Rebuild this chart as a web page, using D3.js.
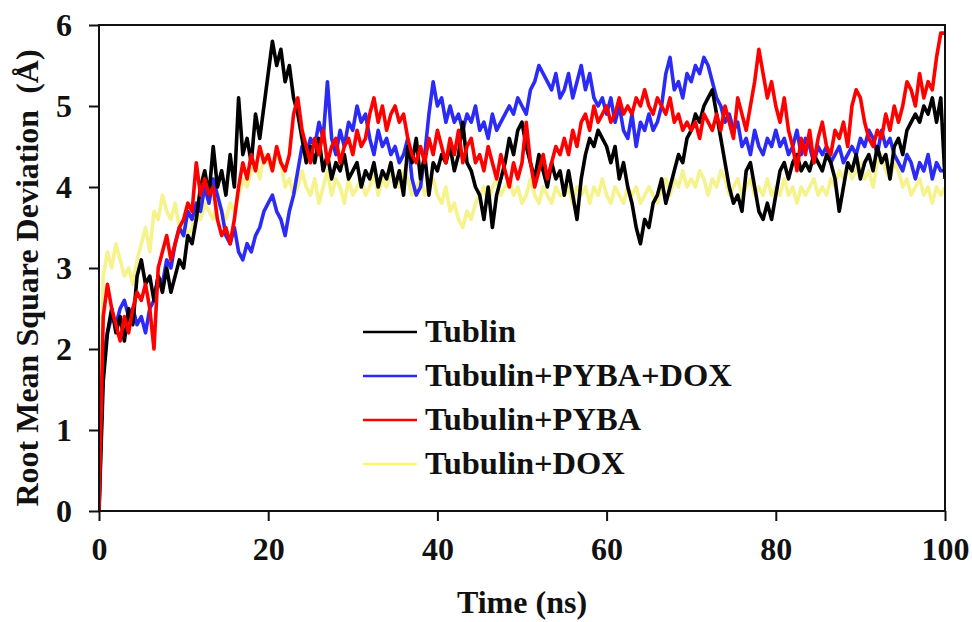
<!DOCTYPE html>
<html>
<head>
<meta charset="utf-8">
<script src="https://cdn.jsdelivr.net/npm/d3@7/dist/d3.min.js"></script>
<style>
  html, body { margin: 0; padding: 0; background: #ffffff; }
  svg { display: block; }
  text { font-family: "Liberation Serif", "Times New Roman", serif; font-weight: bold; fill: #111; }
</style>
</head>
<body>
<svg id="chart" width="972" height="622"></svg>
<script>
// ---- Data (time step 0.5 ns, 0..100 ns) ----
const timeStep = 0.5;
const seriesNames = ["Tublin", "Tubulin+PYBA+DOX", "Tubulin+PYBA", "Tubulin+DOX"];
const seriesColors = ["#000000", "#2b2bf5", "#ff0000", "#f6f28c"];

const tublin = [
  0, 1.6, 2.2, 2.5, 2.2, 2.4, 2.1, 2.5, 2.3, 2.9,
  3.1, 2.8, 2.9, 2.6, 2.9, 2.7, 3.0, 2.7, 2.9, 3.1,
  3.0, 3.4, 3.3, 3.6, 4.0, 4.2, 3.9, 4.5, 4.0, 4.2,
  3.9, 4.4, 4.0, 5.1, 4.4, 4.6, 4.3, 4.9, 4.6, 5.0,
  5.4, 5.8, 5.5, 5.7, 5.3, 5.5, 5.1, 4.9, 4.6, 4.3,
  4.5, 4.3, 4.6, 4.2, 4.4, 4.1, 4.3, 4.2, 4.4, 4.1,
  4.2, 4.3, 4.0, 4.2, 4.1, 4.3, 4.0, 4.2, 4.1, 4.3,
  4.0, 4.2, 3.9, 4.5, 4.3, 4.6, 4.1, 4.4, 3.9, 4.3,
  4.2, 4.4, 4.3, 4.5, 4.2, 4.4, 4.8, 4.3, 4.2, 4.0,
  3.9, 3.6, 4.0, 3.5, 3.9, 4.1, 4.3, 4.6, 4.4, 4.7,
  4.8, 4.5, 4.3, 4.1, 4.4, 4.2, 4.0, 4.3, 4.1, 4.2,
  3.9, 4.2, 3.9, 3.6, 4.1, 4.4, 4.6, 4.5, 4.7, 4.6,
  4.5, 4.3, 4.5, 4.1, 4.3, 4.0, 3.8, 3.5, 3.3, 3.6,
  3.5, 3.8, 3.9, 4.1, 3.8, 4.0, 4.2, 4.4, 4.3, 4.6,
  4.7, 4.9, 4.8, 5.0, 5.1, 5.2, 4.9, 4.6, 4.3, 4.0,
  3.8, 3.9, 3.7, 4.2, 4.3, 4.0, 3.7, 3.6, 3.8, 3.6,
  3.9, 4.2, 4.3, 4.1, 4.3, 4.4, 4.2, 4.3, 4.2, 4.4,
  4.3, 4.2, 4.4, 4.3, 4.1, 3.7, 4.0, 4.3, 4.2, 4.4,
  4.1, 4.3, 4.4, 4.2, 4.5, 4.3, 4.4, 4.1, 4.5, 4.6,
  4.4, 4.7, 4.8, 4.9, 4.8, 5.0, 4.9, 5.1, 4.8, 5.1,
  4.1
];

const tubulinPybaDox = [
  0, 1.9, 2.2, 2.4, 2.3, 2.5, 2.6, 2.4, 2.5, 2.3,
  2.4, 2.2, 2.5, 2.6, 2.9, 2.8, 3.1, 3.0, 3.3, 3.5,
  3.4, 3.7, 3.6, 3.8, 3.7, 4.0, 3.8, 4.1, 3.9, 3.7,
  3.4, 3.3, 3.5, 3.2, 3.1, 3.3, 3.2, 3.4, 3.5, 3.7,
  3.8, 3.9, 3.7, 3.6, 3.4, 3.7, 3.9, 4.2, 4.5, 4.4,
  4.6, 4.5, 4.8, 4.6, 5.3, 4.6, 4.4, 4.7, 4.5, 4.8,
  4.7, 5.0, 4.8, 4.9, 4.6, 4.4, 4.7, 4.5, 4.6, 4.4,
  4.5, 4.3, 4.4, 4.6, 4.1, 3.9, 4.0, 4.4, 4.9, 5.3,
  5.0, 5.1, 4.8, 5.0, 4.8, 4.9, 4.7, 4.9, 4.8, 5.0,
  4.7, 4.8, 4.6, 4.9, 4.7, 4.8, 4.9, 5.0, 4.9, 5.1,
  5.0, 4.9, 5.2, 5.3, 5.5, 5.4, 5.3, 5.2, 5.4, 5.1,
  5.2, 5.4, 5.1, 5.3, 5.5, 5.2, 5.4, 5.1, 5.0, 5.1,
  4.9, 5.1, 4.8, 5.0, 4.7, 4.6, 4.9, 4.5, 4.8, 4.7,
  4.9, 4.7, 4.8, 5.0, 5.4, 5.6, 5.2, 5.3, 5.1, 5.4,
  5.3, 5.5, 5.4, 5.6, 5.5, 5.3, 5.1, 5.0, 4.8, 4.9,
  4.7, 4.8, 4.5, 4.6, 4.4, 4.7, 4.5, 4.4, 4.6, 4.5,
  4.7, 4.5, 4.6, 4.4, 4.5, 4.7, 4.4, 4.6, 4.5, 4.3,
  4.5, 4.4, 4.5, 4.3, 4.4, 4.5, 4.3, 4.4, 4.5, 4.4,
  4.6, 4.5, 4.7, 4.6, 4.4, 4.7, 4.5, 4.6, 4.4, 4.3,
  4.2, 4.4, 4.3, 4.1, 4.3, 4.2, 4.4, 4.1, 4.3, 4.2,
  4.2
];

const tubulinPyba = [
  0, 2.4, 2.8, 2.5, 2.3, 2.1, 2.4, 2.2, 2.5, 2.7,
  2.6, 2.8, 2.5, 2.0, 3.0, 3.2, 3.4, 3.1, 3.3, 3.5,
  3.6, 3.8, 3.7, 4.3, 3.9, 4.1, 3.9, 4.0, 3.6, 3.4,
  3.5, 3.3, 3.6, 4.0, 4.3, 4.1, 4.4, 4.2, 4.5, 4.3,
  4.4, 4.2, 4.5, 4.3, 4.2, 4.4, 4.9, 5.1, 4.7, 4.5,
  4.3, 4.6, 4.4, 4.7, 4.3, 4.5, 4.6, 4.3, 4.5, 4.6,
  4.4, 4.7, 4.5, 4.6, 4.9, 5.1, 4.8, 5.0, 4.7, 4.9,
  5.0, 4.8, 4.9, 4.6, 4.4, 4.3, 4.5, 4.3, 4.6, 4.4,
  4.7, 4.5, 4.3, 4.6, 4.4, 4.7, 4.3, 4.5, 4.6, 4.3,
  4.4, 4.2, 4.5, 4.3, 4.1, 4.4, 4.2, 4.0, 4.3, 4.1,
  4.3, 4.8, 4.3, 4.0, 4.2, 4.4, 4.1, 4.3, 4.5, 4.4,
  4.6, 4.4, 4.7, 4.5, 4.8, 4.9, 4.7, 5.0, 4.8, 4.9,
  5.0, 4.8, 4.9, 5.1, 4.9, 5.0, 4.9, 5.1, 5.0, 5.2,
  5.0, 4.9, 5.1, 5.0, 4.9, 5.1, 4.8, 4.9, 4.7, 4.8,
  4.7, 4.8, 4.6, 4.9, 4.8, 4.7, 4.9, 4.7, 5.0, 4.8,
  4.6, 5.1, 4.9, 4.7, 5.0, 5.3, 5.7, 5.4, 5.1, 5.3,
  5.0, 4.8, 5.1, 4.7, 4.5, 4.2, 4.6, 4.4, 4.7, 4.3,
  4.6, 4.8, 4.5, 4.4, 4.7, 4.6, 4.8, 4.5, 5.0, 5.2,
  5.1, 4.8, 4.6, 4.5, 4.7, 4.6, 4.9, 4.7, 5.0, 4.8,
  5.0, 5.3, 5.2, 5.0, 5.4, 5.1, 5.3, 5.2, 5.6, 5.9,
  5.9
];

const tubulinDox = [
  0, 2.9, 3.2, 3.0, 3.3, 3.1, 2.9, 3.0, 2.8, 3.1,
  3.3, 3.5, 3.2, 3.7, 3.6, 3.9, 3.7, 3.6, 3.8, 3.5,
  3.6, 3.4, 3.5, 3.7, 3.6, 3.8, 3.7, 3.6, 3.8, 3.7,
  3.6, 3.8, 3.7, 3.9, 4.1, 4.0, 4.2, 4.3, 4.1, 4.4,
  4.3, 4.2, 4.4, 4.3, 4.0, 4.1, 3.9, 4.0, 4.2, 4.0,
  3.9, 4.1, 3.8, 4.0, 4.2, 3.9, 4.1, 4.0, 3.8, 4.1,
  3.9, 4.0, 4.1, 3.9, 4.0, 4.2, 3.9, 4.1, 4.0, 4.2,
  4.1, 4.0, 4.2, 4.1, 3.9, 4.0, 4.1, 3.9, 4.0, 4.1,
  3.9, 3.8, 4.0, 3.7, 3.8, 3.6, 3.5, 3.7, 3.6, 3.8,
  3.9, 4.0, 3.8, 4.0, 4.1, 3.9, 4.0, 4.1, 3.9, 4.0,
  3.8, 3.9, 4.1, 3.9, 3.8, 4.0, 3.9, 3.8, 4.0, 3.9,
  3.9, 4.0, 3.8, 4.0, 3.9, 4.0, 3.8, 4.0, 3.9, 4.1,
  3.9, 3.8, 4.0, 3.9, 3.8, 4.0, 3.9, 4.0, 3.8, 3.9,
  4.0, 3.9, 3.8, 4.0, 4.1, 3.9, 4.1, 4.0, 4.2, 4.0,
  4.1, 4.0, 4.2, 4.1, 3.9, 4.1, 4.0, 4.2, 4.1, 3.9,
  4.0, 4.1, 3.9, 4.0, 4.1, 3.9, 4.0, 3.9, 4.1, 3.9,
  4.0, 3.9, 4.1, 3.9, 4.0, 3.8, 4.0, 3.9, 4.0, 4.1,
  3.9, 4.0, 3.9, 4.1, 4.0, 4.2, 4.1, 4.3, 4.1, 4.2,
  4.3, 4.1, 4.2, 4.0, 4.3, 4.4, 4.2, 4.1, 4.3, 4.2,
  4.0, 4.1, 3.9, 4.0, 4.1, 3.9, 4.0, 3.8, 4.0, 3.9,
  4.0
];

const xTicks = [0, 20, 40, 60, 80, 100];
const yTicks = [0, 1, 2, 3, 4, 5, 6];
const xTitle = "Time (ns)";
const yTitle = "Root Mean Square Deviation  (Å)";

// ---- Layout ----
const svg = d3.select("#chart");
const margin = { left: 99, top: 25, right: 27, bottom: 111 };
const W = 972 - margin.left - margin.right;   // 846
const H = 622 - margin.top - margin.bottom;   // 486

const x = d3.scaleLinear().domain([0, 100]).range([0, W]);
const y = d3.scaleLinear().domain([0, 6]).range([H, 0]);

const g = svg.append("g").attr("transform", `translate(${margin.left},${margin.top})`);

// series (draw order: yellow, blue, black, red)
const allSeries = [tublin, tubulinPybaDox, tubulinPyba, tubulinDox];
const drawOrder = [3, 1, 0, 2];
const line = d3.line()
  .x((d, i) => x(i * timeStep))
  .y(d => y(d));

g.append("defs").append("clipPath").attr("id", "clip")
  .append("rect").attr("x", 0).attr("y", 0).attr("width", W).attr("height", H);

const plot = g.append("g").attr("clip-path", "url(#clip)");
drawOrder.forEach(k => {
  plot.append("path")
    .datum(allSeries[k])
    .attr("fill", "none")
    .attr("stroke", seriesColors[k])
    .attr("stroke-width", 3.6)
    .attr("stroke-linejoin", "round")
    .attr("d", line);
});

// frame
g.append("rect").attr("x", 0).attr("y", 0).attr("width", W).attr("height", H)
  .attr("fill", "none").attr("stroke", "#111").attr("stroke-width", 2);

// axes
const yAxis = d3.axisLeft(y).tickValues(yTicks).tickSize(10).tickPadding(17).tickFormat(d3.format("d"));
const xAxis = d3.axisBottom(x).tickValues(xTicks).tickSize(10).tickPadding(16).tickFormat(d3.format("d"));

const ya = g.append("g").call(yAxis);
const xa = g.append("g").attr("transform", `translate(0,${H})`).call(xAxis);
[ya, xa].forEach(a => {
  a.select(".domain").remove();
  a.selectAll(".tick line").attr("stroke", "#111").attr("stroke-width", 2);
  a.selectAll(".tick text")
    .attr("fill", "#111")
    .style("font-family", "'Liberation Serif', 'Times New Roman', serif")
    .style("font-weight", "bold")
    .style("font-size", "32px");
});

// axis titles
svg.append("text")
  .attr("x", margin.left + x(50))
  .attr("y", 613)
  .attr("text-anchor", "middle")
  .style("font-size", "32px")
  .text(xTitle);

svg.append("text")
  .attr("transform", `translate(38, 278) rotate(-90)`)
  .attr("text-anchor", "middle")
  .style("font-size", "32px")
  .style("white-space", "pre")
  .text(yTitle);

// legend
const legendX = 363, legendY0 = 332, legendStep = 44;
const legend = svg.append("g");
seriesNames.forEach((name, i) => {
  const ly = legendY0 + i * legendStep;
  legend.append("line")
    .attr("x1", legendX).attr("x2", legendX + 54)
    .attr("y1", ly).attr("y2", ly)
    .attr("stroke", i === 3 ? "#fbf766" : seriesColors[i])
    .attr("stroke-width", 2.4);
  legend.append("text")
    .attr("x", legendX + 62)
    .attr("y", ly + 10)
    .style("font-size", "32.5px")
    .text(name);
});
</script>
</body>
</html>
